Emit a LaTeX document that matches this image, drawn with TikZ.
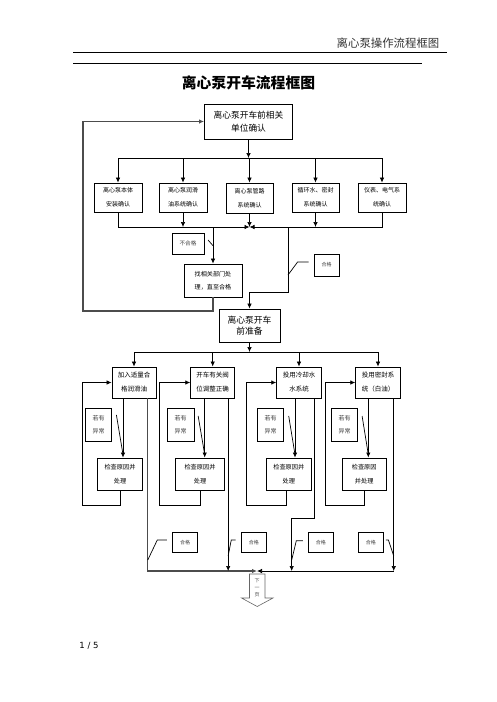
\documentclass[tikz,border=0pt]{standalone}
\usepackage{fontspec}
\newfontfamily\cjk{Noto Sans CJK SC}
\newfontfamily\pgfont{DejaVu Sans}
\usetikzlibrary{arrows.meta,calc}

\begin{document}
\begin{tikzpicture}[x=1pt,y=-1pt,line width=0.7pt,
    pbox/.style={draw,line width=0.9pt,inner sep=0pt,align=center},
    sz/.style 2 args={minimum width=#1,minimum height=#2},
    txt/.style 2 args={font=\cjk\fontsize{#1}{#2}\selectfont},
    lbl/.style={draw,line width=0.8pt,inner sep=0pt,align=center,text=black!75},
    arr/.style={-{Latex[length=5pt,width=4.5pt]}}]
    \useasboundingbox (0,0) rectangle (496,702);

    %页眉和标题
    \node (hdr) [anchor=east,txt={11.4}{12},text=black!80] at (443,42.7) {离心泵操作流程框图};
    \draw[line width=0.8pt] (73,52) -- (447,52);
    \draw[line width=0.8pt] (73,63) -- (422,63);
    \node (ttl) [font=\cjk\bfseries\fontsize{14.8}{16}\selectfont] at (248.5,83) {离心泵开车流程框图};

    %第一层：相关单位确认
    \node (top) [pbox,sz={88pt}{35pt},txt={8.7}{12.5}] at (248.5,121.5) {离心泵开车前相关\\单位确认};
    \node (c1) [pbox,sz={48pt}{29pt},txt={6}{14}] at (118,197.5) {离心泵本体\\安装确认};
    \node (c2) [pbox,sz={48pt}{29pt},txt={6}{14}] at (183,197.5) {离心泵润滑\\油系统确认};
    \node (c3) [pbox,sz={47pt}{30pt},txt={6}{14}] at (249.5,198) {离心泵管路\\系统确认};
    \node (c4) [pbox,sz={47pt}{29pt},txt={6}{14}] at (315.5,197.5) {循环水、密封\\系统确认};
    \node (c5) [pbox,sz={48pt}{29pt},txt={6}{14}] at (382,197.5) {仪表、电气系\\统确认};

    \coordinate (b1) at (248.5,158);
    \draw[arr] (top.south) -- (b1);
    \draw (c1.north |- b1) -- (c5.north |- b1);
    \draw[arr] (c1.north |- b1) -- (c1.north);
    \draw[arr] (c2.north |- b1) -- (c2.north);
    \draw[arr] (c3.north |- b1) -- (c3.north);
    \draw[arr] (c4.north |- b1) -- (c4.north);
    \draw[arr] (c5.north |- b1) -- (c5.north);

    \coordinate (b2) at (249.5,227);
    \draw[arr] (c1.south) |- (b2);
    \draw[arr] (c5.south) |- (b2);
    \draw[arr] (c2.south) -- (c2.south |- b2);
    \draw[arr] (c3.south) -- (b2);
    \draw[arr] (c4.south) -- (c4.south |- b2);

    %不合格：找相关部门处理后返回
    \node (ng) [lbl,sz={32pt}{21pt},txt={5.6}{7}] at (188,243.5) {不合格};
    \node (fix) [pbox,sz={58pt}{33pt},txt={6.1}{13.4}] at (213,280.5) {找相关部门处\\理，直至合格};
    \draw[arr] (fix.north |- b2) -- (fix.north);
    \draw ($(ng.east)+(3.7,-3.5)$) -- ($(fix.north |- ng.east)+(0,2.2)$);
    \coordinate (lp) at (83,311);
    \draw[arr,black!70,line width=1.1pt] (fix.south) |- (lp) |- (top.west);

    %合格：开车前准备
    \node (ok0) [lbl,sz={25pt}{22pt},txt={5}{6}] at (326.5,265) {合格};
    \node (prep) [pbox,sz={61pt}{33pt},txt={8.8}{11.7}] at (249.5,325.5) {离心泵开车\\前准备};
    \coordinate (okv) at (288,292);
    \draw[arr] (okv |- b2) -- (okv) -| (prep.north);
    \draw ($(ok0.west)+(-5,-3)$) -- ($(ok0.west)+(-16,-3)$) -- (okv |- 0,275);

    %第二层：开车前准备工作
    \node (ra) [pbox,sz={44pt}{31pt},txt={6.5}{14}] at (134,382.5) {加入适量合\\格润滑油};
    \node (rb) [pbox,sz={44pt}{31pt},txt={6.5}{14}] at (212.7,382.5) {开车有关阀\\位调整正确};
    \node (rc) [pbox,sz={44.6pt}{31pt},txt={6.5}{14}] at (299,382.5) {投用冷却水\\水系统};
    \node (rd) [pbox,sz={44.6pt}{31pt},txt={6.5}{14}] at (378,382.5) {投用密封系\\统（白油）};

    \coordinate (b3) at (249.5,352);
    \draw[arr] (prep.south) -- (b3);
    \draw (ra.north |- b3) -- (rd.north |- b3);
    \draw[arr] (ra.north |- b3) -- (ra.north);
    \draw[arr] (rb.north |- b3) -- (rb.north);
    \draw[arr] (rc.north |- b3) -- (rc.north);
    \draw[arr] (rd.north |- b3) -- (rd.north);

    %若有异常 -> 检查原因并处理
    \node (ya) [lbl,sz={26pt}{33pt},txt={6}{12.7}] at (98.7,424.5) {若有\\异常};
    \node (yb) [lbl,sz={26.7pt}{33pt},txt={6}{12.7}] at (180.7,424.5) {若有\\异常};
    \node (yc) [lbl,sz={26.4pt}{33pt},txt={6}{12.7}] at (270.5,424.5) {若有\\异常};
    \node (yd) [lbl,sz={25.6pt}{33pt},txt={6}{12.7}] at (344.5,424.5) {若有\\异常};
    \node (ka) [pbox,sz={45.4pt}{32pt},txt={6.2}{13.3}] at (120,474) {检查原因并\\处理};
    \node (kb) [pbox,sz={49.4pt}{32pt},txt={6.2}{13.3}] at (200,474) {检查原因并\\处理};
    \node (kc) [pbox,sz={44.3pt}{32pt},txt={6.2}{13.3}] at (288.8,474) {检查原因并\\处理};
    \node (kd) [pbox,sz={43.7pt}{32pt},txt={6.2}{13.3}] at (364.2,474) {检查原因\\并处理};

    \coordinate (da) at ($(ka.north)+(3,0)$);
    \coordinate (db) at ($(kb.north)+(4.7,0)$);
    \coordinate (dc) at ($(kc.north)+(6.2,0)$);
    \coordinate (dd) at ($(kd.north)+(4.1,0)$);
    \draw[arr] (ra.south -| da) -- (da);
    \draw[arr] (rb.south -| db) -- (db);
    \draw[arr] (rc.south -| dc) -- (dc);
    \draw[arr] (rd.south -| dd) -- (dd);
    \draw ($(ya.east)+(4.3,-9.5)$) -- ($(da)+(0,-3)$);
    \draw ($(yb.east)+(3.7,-8.5)$) -- ($(db)+(0,-3)$);
    \draw ($(yc.east)+(4.6,-8.5)$) -- ($(dc)+(0,-3)$);
    \draw ($(yd.east)+(4.4,-8.5)$) -- ($(dd)+(0,-3)$);

    %处理后返回
    \draw[arr] (ka.south) -- ++(0,15) -| ($(ra.west)+(-29.7,0)$) -- (ra.west);
    \draw[arr] (kb.south) -- ++(0,15) -| ($(rb.west)+(-30.7,0)$) -- (rb.west);
    \draw[arr] (kc.south) ++(-2.8,0) -- ++(0,15) -| ($(rc.west)+(-30.2,0)$) -- (rc.west);
    \draw[arr] (kd.south) -- ++(0,15) -| ($(rd.west)+(-29.7,0)$) -- (rd.west);

    %合格 -> 下一页
    \node (oa) [lbl,sz={25.4pt}{20pt},txt={5}{6}] at (185,542.3) {合格};
    \node (ob) [lbl,sz={25.7pt}{20pt},txt={5}{6}] at (253.8,542.3) {合格};
    \node (oc) [lbl,sz={25pt}{20pt},txt={5}{6}] at (320.8,542.3) {合格};
    \node (od) [lbl,sz={25pt}{20pt},txt={5}{6}] at (370.8,542.3) {合格};

    \coordinate (b4) at (257,571);
    \coordinate (ea) at ($(ra.south east)+(-8.7,0)$);
    \coordinate (eb) at ($(rb.south east)+(-7,0)$);
    \coordinate (ec) at ($(rc.south east)+(-7.3,0)$);
    \coordinate (ed) at ($(rd.south east)+(-7,0)$);
    \draw[arr,black!70,line width=1.1pt] (ea) |- (b4);
    \draw[arr] (eb) -- (eb |- b4);
    \draw[arr] (ec) -- ++(0,120) -| ($(b4)+(34.7,0)$);
    \draw[arr] (ed) -- (ed |- b4);
    \draw[arr] (ed |- b4) -- (b4);
    \draw ($(oa.west)+(-5,-2.3)$) -- ++(-9.6,0) -- (ea |- 0,560);
    \draw ($(ob.west)+(-5,-2.3)$) -- ++(-4.3,0) -- (eb |- 0,556);
    \draw ($(oc.west)+(-5,-1.6)$) -- ++(-6.6,0) -- ($(b4)+(34.7,-11)$);
    \draw ($(od.east)+(2.2,-2.3)$) -- ++(2.5,0) -- (ed |- 0,556);

    \draw[black!60,line width=0.6pt] (249.5,574) -- (265,574) -- (265,598) -- (273,598)
    -- (257.2,606.5) -- (241.5,598) -- (249.5,598) -- cycle;
    \node (nx) [txt={5}{7.2},align=center,inner sep=0pt,text=black!70] at (257.2,587.5) {下\\一\\页};

    %页码
    \node (pg) [font=\pgfont\fontsize{8.5}{10}\selectfont] at (89,645.7) {1 / 5};
\end{tikzpicture}
\end{document}
